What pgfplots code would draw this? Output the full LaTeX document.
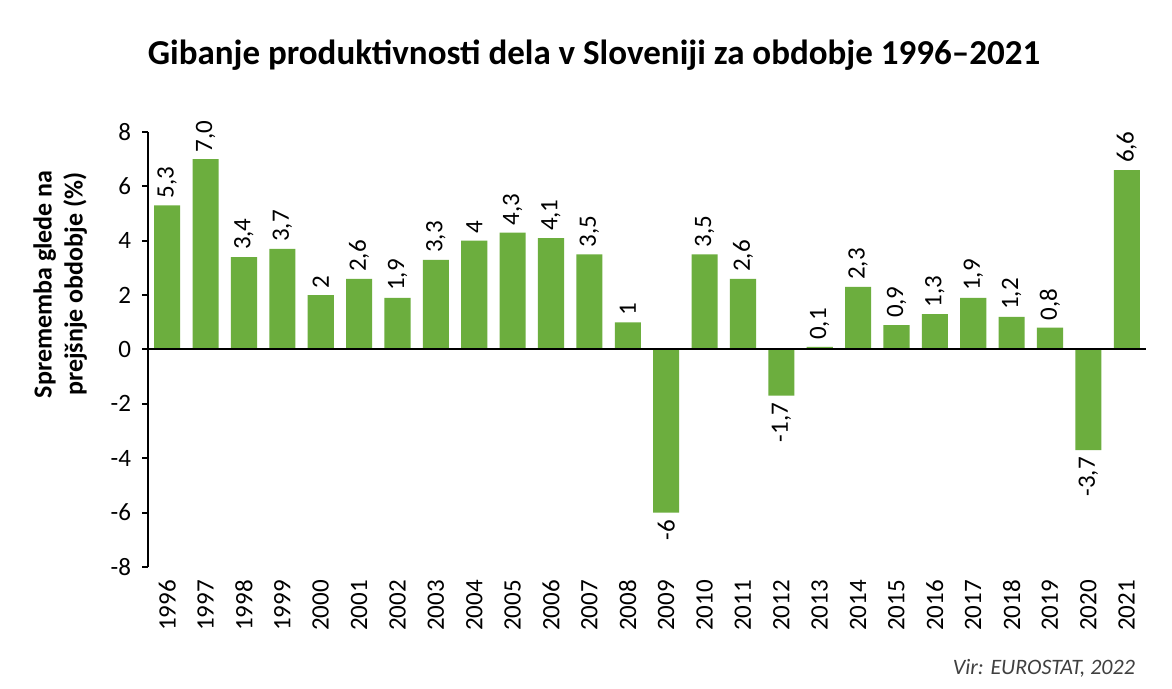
\documentclass[border=0pt]{standalone}
\usepackage{pgfplots}
\pgfplotsset{compat=1.18}
\usepackage{fontspec}
\setmainfont{Carlito}
\definecolor{barg}{RGB}{108,174,62}
\begin{document}
\begin{tikzpicture}[x=1pt,y=1pt]
\path[use as bounding box, fill=white] (0,0) rectangle (586,344.5);
\node[font=\bfseries\fontsize{17.5}{20}\selectfont, text=black] at (297,317) {Gibanje produktivnosti dela v Sloveniji za obdobje 1996–2021};
\node[font=\itshape\fontsize{11}{13}\selectfont, text=black!75, anchor=east] at (571,10.5) {Vir: EUROSTAT, 2022};
\begin{axis}[
  at={(74pt,61pt)}, anchor=south west, scale only axis,
  width=499pt, height=217.5pt,
  ymin=-8, ymax=8, ytick={-8,-6,...,8},
  xmin=1995.5, xmax=2021.5, xtick={1996,...,2021},
  xticklabels={1996,1997,1998,1999,2000,2001,2002,2003,2004,2005,2006,2007,2008,2009,2010,2011,2012,2013,2014,2015,2016,2017,2018,2019,2020,2021},
  axis y line*=left, axis x line*=bottom,
  x axis line style={draw=none},
  y axis line style={line width=1pt, black},
  ytick style={line width=1pt, black},
  xtick style={draw=none},
  ytick align=outside, xtick align=inside,
  major tick length=3pt,
  ybar, bar width=0.68,
  ticklabel style={font=\fontsize{12.5}{14}\selectfont, text=black},
  yticklabel style={xshift=-2pt},
  xticklabel style={rotate=90, anchor=east},
  /pgf/number format/assume math mode=true,
  ylabel={Sprememba glede na\\prejšnje obdobje (\%)},
  ylabel style={at={(axis description cs:-0.088,0.65)}, anchor=center, align=center, font=\bfseries\fontsize{13}{15.5}\selectfont},
  point meta=explicit symbolic,
  clip=false,
]
\addplot[fill=barg, draw=none, bar shift=0pt, nodes near coords,
  every node near coord/.append style={rotate=90, anchor=west, font=\fontsize{12.5}{14}\selectfont, text=black}]
  table[x=x, y=y, meta=l] {
x y l
1996 5.3 5,3
1997 7.0 7,0
1998 3.4 3,4
1999 3.7 3,7
2000 2 2
2001 2.6 2,6
2002 1.9 1,9
2003 3.3 3,3
2004 4 4
2005 4.3 4,3
2006 4.1 4,1
2007 3.5 3,5
2008 1 1
2010 3.5 3,5
2011 2.6 2,6
2013 0.1 0,1
2014 2.3 2,3
2015 0.9 0,9
2016 1.3 1,3
2017 1.9 1,9
2018 1.2 1,2
2019 0.8 0,8
2021 6.6 6,6
};
\addplot[fill=barg, draw=none, bar shift=0pt, nodes near coords,
  every node near coord/.append style={rotate=90, anchor=east, font=\fontsize{12.5}{14}\selectfont, text=black}]
  table[x=x, y=y, meta=l] {
x y l
2009 -6 -6
2012 -1.7 -1,7
2020 -3.7 -3,7
};
\draw[line width=1pt, black] (axis cs:1995.5,0) -- (axis cs:2021.5,0);
\end{axis}
\end{tikzpicture}
\end{document}
